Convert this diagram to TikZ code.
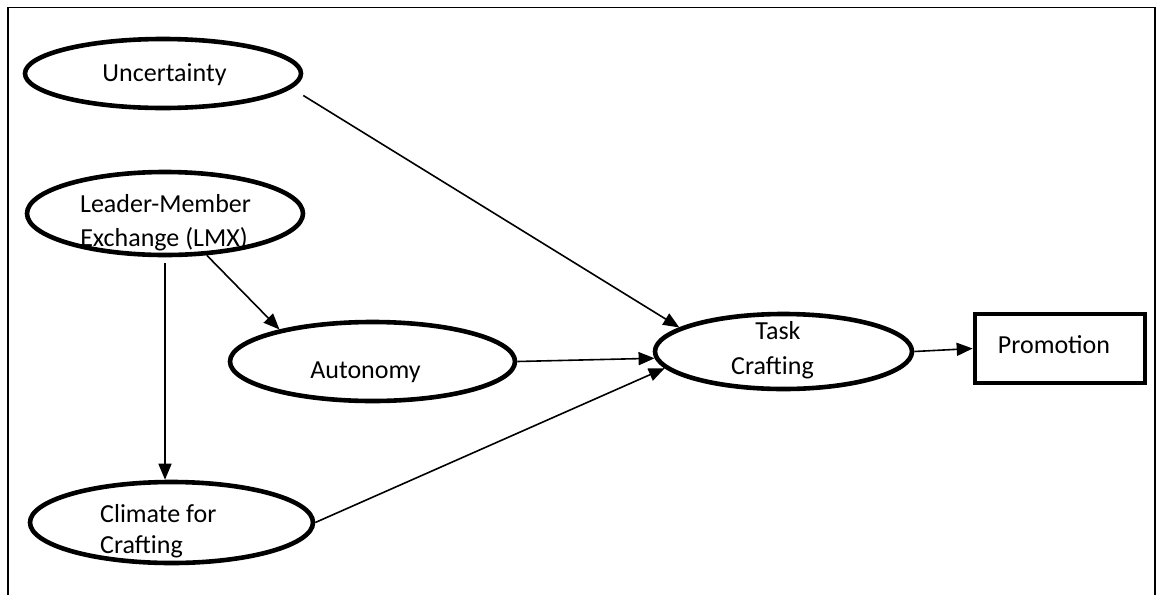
\documentclass[tikz,border=0pt]{standalone}
\usepackage{fontspec}
\setmainfont{Carlito}
\usetikzlibrary{shapes.geometric,arrows.meta,calc}
\begin{document}
\begin{tikzpicture}[x=1pt,y=-1pt,
  oval/.style={draw, ellipse, line width=4.6pt, inner sep=0pt},
  rbox/.style={draw, rectangle, line width=4.6pt, inner sep=0pt},
  lbl/.style={font=\fontsize{26}{33}\selectfont, inner sep=0pt, anchor=base},
  conn/.style={line width=1.6pt, -{Triangle[length=16pt,width=13pt]}}]
\useasboundingbox (0,0) rectangle (1157,595);
\draw[line width=1.6pt] (8,595) -- (8,7.5) -- (1155,7.5) -- (1155,595);

\node[oval, minimum width=276pt, minimum height=69pt] (unc) at (163,73.5) {};
\node[oval, minimum width=276pt, minimum height=83pt] (lmx) at (165,213.5) {};
\node[oval, minimum width=285pt, minimum height=79pt] (aut) at (372.5,361.5) {};
\node[oval, minimum width=283pt, minimum height=81pt] (clim) at (171.5,522.5) {};
\node[oval, minimum width=257pt, minimum height=75pt] (task) at (783.5,351.5) {};
\node[rbox, minimum width=170pt, minimum height=69pt] (prom) at (1060,348.5) {};

\node[lbl] (unct) at (164.5,81) {Uncertainty};
\node[lbl] (lmxa) at (165.5,212) {Leader-Member};
\node[lbl] (lmxb) at (164,246) {Exchange (LMX)};
\node[lbl] (autt) at (365.5,378) {Autonomy};
\node[lbl, anchor=base west] (clima) at (100,522) {Climate for};
\node[lbl, anchor=base west] (climb) at (100,553) {Crafting};
\node[lbl] (taska) at (778,339) {Task};
\node[lbl] (taskb) at (772.5,374) {Crafting};
\node[lbl] (promt) at (1054,353) {Promotion};

\draw[conn] ($(unc.east)+(0,22)$) -- (task.167);
\draw[conn] (lmx.-45) -- (aut.161);
\draw[conn] ($(lmx.south)+(0,6)$) -- (lmx.south |- clim.north);
\draw[conn] (aut.east) -- (task.183);
\draw[conn] (clim.east) -- (task.188);
\draw[conn] (task.east) -- (prom.west);
\end{tikzpicture}
\end{document}
